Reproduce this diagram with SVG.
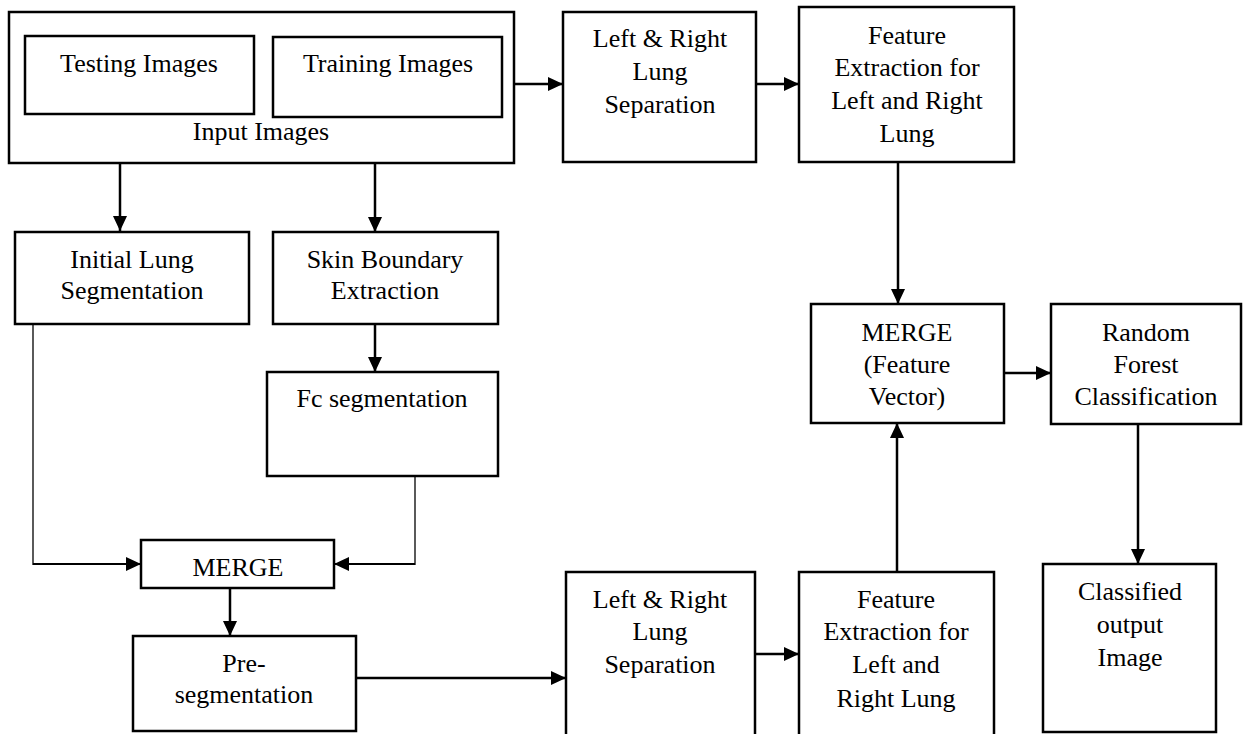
<svg xmlns="http://www.w3.org/2000/svg" width="1243" height="734" viewBox="0 0 1243 734">
<defs>
<marker id="ah" markerUnits="userSpaceOnUse" markerWidth="15" markerHeight="14" refX="15" refY="7" orient="auto">
<path d="M0,0 L15,7 L0,14 z" fill="#000"/>
</marker>
<style>
rect{fill:#fff;stroke:#000;stroke-width:2.5}
text{font-family:"Liberation Serif","Times New Roman",serif;font-size:26px;fill:#000;text-anchor:middle}
.c{stroke:#000;stroke-width:2.5;fill:none}
.t{stroke:#000;stroke-width:1.3;fill:none}
.th{stroke:#000;stroke-width:2;fill:none}
</style>
</defs>
<rect width="1243" height="734" style="fill:#fff;stroke:none"/>
<g id="connectors">
<line class="c" x1="514" y1="84" x2="563" y2="84" marker-end="url(#ah)"/>
<line class="c" x1="756" y1="84" x2="799" y2="84" marker-end="url(#ah)"/>
<line class="c" x1="120" y1="163" x2="120" y2="231" marker-end="url(#ah)"/>
<line class="c" x1="375" y1="163" x2="375" y2="232" marker-end="url(#ah)"/>
<line class="c" x1="375" y1="324" x2="375" y2="372" marker-end="url(#ah)"/>
<line class="t" x1="33" y1="324" x2="33" y2="565"/>
<line class="th" x1="33" y1="564" x2="141" y2="564" marker-end="url(#ah)"/>
<line class="t" x1="415" y1="476" x2="415" y2="565"/>
<line class="th" x1="415" y1="564" x2="334" y2="564" marker-end="url(#ah)"/>
<line class="c" x1="230" y1="588" x2="230" y2="636" marker-end="url(#ah)"/>
<line class="c" x1="356" y1="678" x2="566" y2="678" marker-end="url(#ah)"/>
<line class="c" x1="755" y1="654" x2="799" y2="654" marker-end="url(#ah)"/>
<line class="c" x1="897" y1="572" x2="897" y2="423" marker-end="url(#ah)"/>
<line class="c" x1="898" y1="162" x2="898" y2="304" marker-end="url(#ah)"/>
<line class="c" x1="1004" y1="373" x2="1051" y2="373" marker-end="url(#ah)"/>
<line class="c" x1="1138" y1="424" x2="1138" y2="564" marker-end="url(#ah)"/>
</g>
<g id="input-images">
<rect x="9" y="12" width="505" height="151"/>
<text x="261" y="140">Input Images</text>
</g>
<g id="testing-images">
<rect x="25" y="36" width="229" height="78"/>
<text x="139" y="72">Testing Images</text>
</g>
<g id="training-images">
<rect x="273" y="37" width="229" height="80"/>
<text x="388" y="72">Training Images</text>
</g>
<g id="lr-sep-top">
<rect x="563" y="12" width="193" height="150"/>
<text x="660" y="47">Left &amp; Right</text>
<text x="660" y="80">Lung</text>
<text x="660" y="113">Separation</text>
</g>
<g id="feat-top">
<rect x="799" y="7" width="215" height="155"/>
<text x="907" y="44">Feature</text>
<text x="907" y="76">Extraction for</text>
<text x="907" y="109">Left and Right</text>
<text x="907" y="142">Lung</text>
</g>
<g id="initial-lung">
<rect x="15" y="232" width="234" height="92"/>
<text x="132" y="268">Initial Lung</text>
<text x="132" y="299">Segmentation</text>
</g>
<g id="skin-boundary">
<rect x="273" y="232" width="225" height="92"/>
<text x="385" y="268">Skin Boundary</text>
<text x="385" y="299">Extraction</text>
</g>
<g id="fc-seg">
<rect x="267" y="372" width="231" height="104"/>
<text x="382" y="407">Fc segmentation</text>
</g>
<g id="merge">
<rect x="141" y="540" width="193" height="48"/>
<text x="238" y="576">MERGE</text>
</g>
<g id="pre-seg">
<rect x="133" y="636" width="223" height="95"/>
<text x="244" y="672">Pre-</text>
<text x="244" y="703">segmentation</text>
</g>
<g id="lr-sep-bottom">
<rect x="566" y="572" width="189" height="180"/>
<text x="660" y="608">Left &amp; Right</text>
<text x="660" y="640">Lung</text>
<text x="660" y="673">Separation</text>
</g>
<g id="feat-bottom">
<rect x="799" y="572" width="195" height="180"/>
<text x="896" y="608">Feature</text>
<text x="896" y="640">Extraction for</text>
<text x="896" y="673">Left and</text>
<text x="896" y="707">Right Lung</text>
</g>
<g id="merge-fv">
<rect x="811" y="304" width="193" height="119"/>
<text x="907" y="341">MERGE</text>
<text x="907" y="373">(Feature</text>
<text x="907" y="405">Vector)</text>
</g>
<g id="random-forest">
<rect x="1051" y="304" width="190" height="120"/>
<text x="1146" y="341">Random</text>
<text x="1146" y="373">Forest</text>
<text x="1146" y="405">Classification</text>
</g>
<g id="classified">
<rect x="1043" y="564" width="173" height="168"/>
<text x="1130" y="600">Classified</text>
<text x="1130" y="633">output</text>
<text x="1130" y="666">Image</text>
</g>
</svg>
